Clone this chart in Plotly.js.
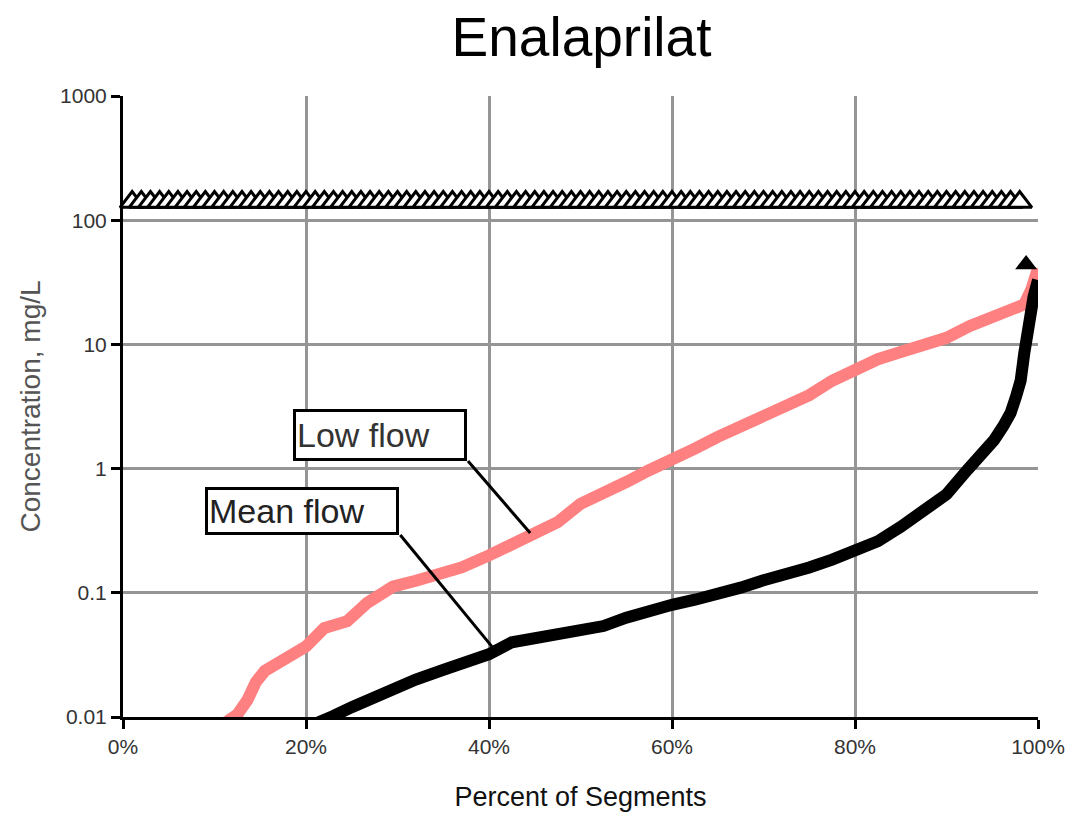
<!DOCTYPE html>
<html>
<head>
<meta charset="utf-8">
<script src="https://cdn.plot.ly/plotly-3.0.1.min.js"></script>
<style>
  html, body { margin: 0; padding: 0; background: #fff; }
  #chart { width: 1067px; height: 817px; }
</style>
</head>
<body>
<div id="chart"></div>
<script>
// Cumulative distribution of predicted Enalaprilat concentrations (mg/L)
// versus percent of river segments, for low and mean flow conditions.

const lowFlowPct = [11.2, 12.5, 13.6, 14.5, 15.5, 17.5, 20, 22, 24.5, 26.7, 29.5, 32, 34, 37, 40,
  42.6, 45, 47.5, 50, 52.5, 55, 57.5, 60, 62.5, 65, 67.5, 70, 72.5, 75, 77.5, 80, 82.5, 85,
  87.5, 90, 92.5, 95, 97, 98.5, 99.3, 99.7, 100];
const lowFlowConc = [0.009, 0.0105, 0.0137, 0.019, 0.0235, 0.029, 0.037, 0.052, 0.059, 0.083,
  0.112, 0.125, 0.135, 0.16, 0.2, 0.25, 0.3, 0.37, 0.52, 0.62, 0.78, 0.97, 1.22, 1.45, 1.8,
  2.2, 2.6, 3.1, 3.9, 5.1, 6.4, 7.6, 8.7, 9.8, 11.3, 14, 16.2, 18.5, 21, 28, 35, 41];

const meanFlowPct = [20, 21.5, 23, 25, 26.7, 29.5, 32, 35, 38, 40, 42.5, 45, 47.5, 50, 52.5, 55,
  57.5, 60, 62.5, 65, 67.5, 70, 72.5, 75, 77.5, 80, 82.5, 85, 87, 88.6, 90, 92.3, 94, 95.2,
  96.2, 97, 97.6, 98.1, 98.5, 98.8, 99.2, 99.5, 100];
const meanFlowConc = [0.0082, 0.009, 0.0102, 0.012, 0.0137, 0.0172, 0.02, 0.024, 0.029, 0.032,
  0.04, 0.043, 0.047, 0.05, 0.054, 0.063, 0.072, 0.08, 0.088, 0.097, 0.11, 0.126, 0.14, 0.16,
  0.185, 0.22, 0.26, 0.34, 0.43, 0.53, 0.62, 0.98, 1.3, 1.7, 2.2, 2.8, 3.8, 5.1, 8.5, 13, 19,
  24, 33];

// Maximum predicted concentration marker
const maxPct = [98.7];
const maxConc = [44];

// Effect threshold, one marker per segment percentile
const thresholdPct = [1, 2, 3, 4, 5, 6, 7, 8, 9, 10, 11, 12, 13, 14, 15, 16, 17, 18, 19, 20,
  21, 22, 23, 24, 25, 26, 27, 28, 29, 30, 31, 32, 33, 34, 35, 36, 37, 38, 39, 40,
  41, 42, 43, 44, 45, 46, 47, 48, 49, 50, 51, 52, 53, 54, 55, 56, 57, 58, 59, 60,
  61, 62, 63, 64, 65, 66, 67, 68, 69, 70, 71, 72, 73, 74, 75, 76, 77, 78, 79, 80,
  81, 82, 83, 84, 85, 86, 87, 88, 89, 90, 91, 92, 93, 94, 95, 96, 97, 98];
const thresholdConc = [140, 140, 140, 140, 140, 140, 140, 140, 140, 140, 140, 140, 140, 140,
  140, 140, 140, 140, 140, 140, 140, 140, 140, 140, 140, 140, 140, 140, 140, 140, 140, 140,
  140, 140, 140, 140, 140, 140, 140, 140, 140, 140, 140, 140, 140, 140, 140, 140, 140, 140,
  140, 140, 140, 140, 140, 140, 140, 140, 140, 140, 140, 140, 140, 140, 140, 140, 140, 140,
  140, 140, 140, 140, 140, 140, 140, 140, 140, 140, 140, 140, 140, 140, 140, 140, 140, 140,
  140, 140, 140, 140, 140, 140, 140, 140, 140, 140, 140, 140];

const xTicks = [0, 20, 40, 60, 80, 100];
const xTickText = ['0%', '20%', '40%', '60%', '80%', '100%'];
const yTicks = [0.01, 0.1, 1, 10, 100, 1000];
const yTickText = ['0.01', '0.1', '1', '10', '100', '1000'];

const FONT = 'Liberation Sans, Arial, Helvetica, sans-serif';

const traces = [
  {
    x: thresholdPct, y: thresholdConc, type: 'scatter', mode: 'markers',
    marker: { symbol: 'triangle-up', size: 21, color: '#ffffff',
              line: { color: '#000000', width: 3 } },
    cliponaxis: false, showlegend: false, hoverinfo: 'skip'
  },
  {
    x: lowFlowPct, y: lowFlowConc, type: 'scatter', mode: 'lines',
    line: { color: '#ff8080', width: 12 },
    showlegend: false, hoverinfo: 'skip'
  },
  {
    x: meanFlowPct, y: meanFlowConc, type: 'scatter', mode: 'lines',
    line: { color: '#000000', width: 12 },
    showlegend: false, hoverinfo: 'skip'
  },
  {
    x: maxPct, y: maxConc, type: 'scatter', mode: 'markers',
    marker: { symbol: 'triangle-up', size: 19, color: '#000000' },
    cliponaxis: false, showlegend: false, hoverinfo: 'skip'
  }
];

const layout = {
  width: 1067, height: 817,
  paper_bgcolor: '#ffffff', plot_bgcolor: '#ffffff',
  margin: { l: 123, r: 29, t: 96, b: 100 },
  font: { family: FONT, color: '#000' },
  title: {
    text: 'Enalaprilat',
    font: { family: FONT, size: 55, color: '#000' },
    x: 0.545, xanchor: 'center', xref: 'container',
    y: 0.955, yanchor: 'middle', yref: 'container'
  },
  xaxis: {
    range: [0, 100], fixedrange: true,
    tickvals: xTicks, ticktext: xTickText,
    tickfont: { family: FONT, size: 21, color: '#333' },
    ticks: 'outside', ticklen: 9, tickwidth: 3, tickcolor: '#000',
    showline: true, linecolor: '#000', linewidth: 3,
    showgrid: true, gridcolor: '#959595', gridwidth: 3,
    zeroline: false,
    title: { text: 'Percent of Segments', standoff: 30,
             font: { family: FONT, size: 27, color: '#111' } }
  },
  yaxis: {
    type: 'log', range: [-2, 3], fixedrange: true,
    tickvals: yTicks, ticktext: yTickText,
    tickfont: { family: FONT, size: 21, color: '#333' },
    ticks: 'outside', ticklen: 9, tickwidth: 3, tickcolor: '#000',
    showline: true, linecolor: '#000', linewidth: 3,
    showgrid: true, gridcolor: '#959595', gridwidth: 3,
    zeroline: false,
    title: { text: 'Concentration, mg/L', standoff: 12,
             font: { family: FONT, size: 28, color: '#555' } }
  },
  annotations: [
    {
      text: 'Low flow', xref: 'x', yref: 'y', x: 28.1, y: 0.27,
      showarrow: false, width: 166, height: 44, align: 'left',
      bgcolor: '#ffffff', bordercolor: '#000', borderwidth: 3, borderpad: 1,
      font: { family: FONT, size: 34, color: '#333' }
    },
    {
      text: 'Mean flow', xref: 'x', yref: 'y', x: 19.6, y: -0.345,
      showarrow: false, width: 186, height: 40, align: 'left',
      bgcolor: '#ffffff', bordercolor: '#000', borderwidth: 3, borderpad: 1,
      font: { family: FONT, size: 34, color: '#222' }
    }
  ],
  shapes: [
    { type: 'line', xref: 'x', yref: 'y', x0: 37.7, y0: 1.15, x1: 44.5, y1: 0.303,
      line: { color: '#000', width: 3 } },
    { type: 'line', xref: 'x', yref: 'y', x0: 30.3, y0: 0.292, x1: 40.35, y1: 0.0367,
      line: { color: '#000', width: 3 } }
  ]
};

Plotly.newPlot('chart', traces, layout, { displayModeBar: false, staticPlot: true });
</script>
</body>
</html>
